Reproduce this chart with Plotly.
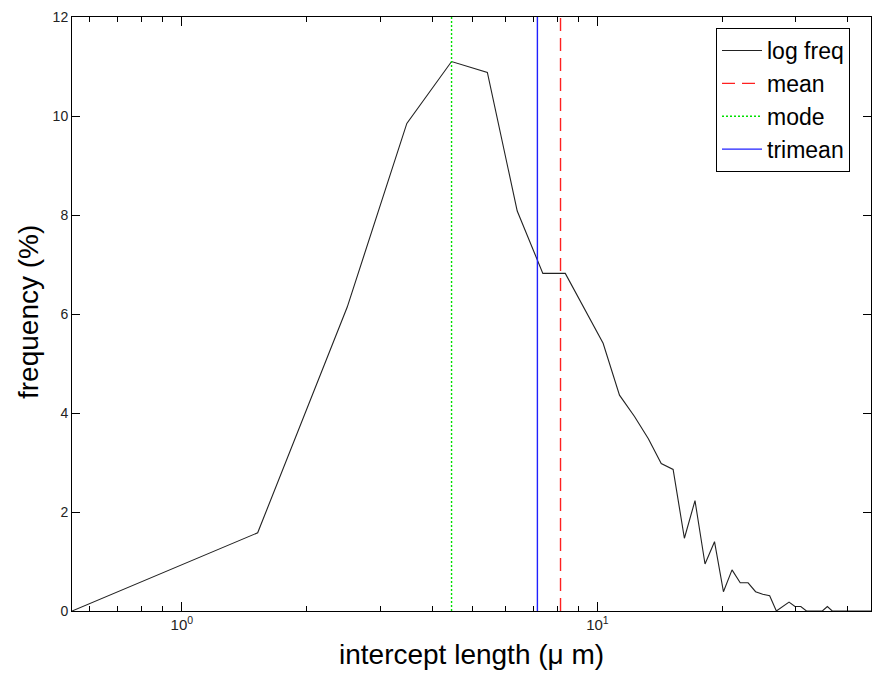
import math
import plotly.graph_objects as go

# intercept length bins (μm) and log-frequency (%)
lengths = [0.544, 1.522, 2.50, 3.478, 4.456, 5.434, 6.412, 7.39, 8.368, 9.346,
           10.32, 11.30, 12.28, 13.26, 14.24, 15.21, 16.19, 17.17, 18.15, 19.13,
           20.10, 21.08, 22.06, 23.04, 24.02, 24.99, 25.97, 26.95, 27.93, 28.91,
           29.88, 30.86, 31.84, 32.82, 33.80, 34.77, 35.75, 36.73, 37.71, 38.69,
           39.67, 40.64, 41.62, 42.60, 43.58, 44.56, 45.53]
freq = [0, 1.58, 6.14, 9.85, 11.10, 10.88, 8.08, 6.82, 6.82, 6.08,
        5.41, 4.36, 3.93, 3.48, 2.98, 2.86, 1.47, 2.23, 0.95, 1.40,
        0.39, 0.83, 0.57, 0.57, 0.39, 0.34, 0.31, 0, 0.09, 0.18,
        0.09, 0.09, 0, 0, 0, 0, 0.09, 0, 0, 0,
        0, 0, 0, 0, 0, 0, 0]

mean_val = 8.15
mode_val = 4.456
trimean_val = 7.17
y_span = [0, 12]

x_major = [1, 10]
x_major_text = ["10<sup>0</sup>", "10<sup>1</sup>"]
x_minor = [0.6, 0.7, 0.8, 0.9, 2, 3, 4, 5, 6, 7, 8, 9, 20, 30, 40]
y_ticks = [0, 2, 4, 6, 8, 10, 12]

FONT = "Liberation Sans, Arial, Helvetica, sans-serif"

fig = go.Figure()
fig.add_trace(go.Scatter(x=lengths, y=freq, mode="lines", name="log freq",
                         line=dict(color="#222222", width=1.1), legendgroup="a"))
fig.add_trace(go.Scatter(x=[mean_val, mean_val], y=y_span, mode="lines", name="mean",
                         line=dict(color="#ff2020", width=1.4, dash="13px,7px"), legendgroup="b"))
fig.add_trace(go.Scatter(x=[mode_val, mode_val], y=y_span, mode="lines", name="mode",
                         line=dict(color="#00e000", width=1.4, dash="2px,2px"), legendgroup="c"))
fig.add_trace(go.Scatter(x=[trimean_val, trimean_val], y=y_span, mode="lines", name="trimean",
                         line=dict(color="#2020ff", width=1.4), legendgroup="d"))

fig.update_layout(
    width=872, height=677,
    margin=dict(l=72, r=1, t=17, b=66),
    paper_bgcolor="white", plot_bgcolor="white",
    font=dict(family=FONT, color="black"),
    showlegend=True,
    legend=dict(x=(716 - 72) / 799, y=(611 - 28) / 594, xanchor="left", yanchor="top",
                bordercolor="black", borderwidth=1, bgcolor="white",
                font=dict(size=23, family=FONT), tracegroupgap=0, itemwidth=40),
    xaxis=dict(type="log", range=[math.log10(lengths[0]), math.log10(lengths[-1])],
               tickmode="array", tickvals=x_major, ticktext=x_major_text,
               ticks="inside", ticklen=9, tickwidth=1, tickcolor="black",
               minor=dict(tickmode="array", tickvals=x_minor, ticks="inside",
                          ticklen=5, tickwidth=1, tickcolor="black", showgrid=False),
               showline=True, linecolor="black", linewidth=1, mirror="ticks",
               showgrid=False, zeroline=False,
               tickfont=dict(size=15, color="#222")),
    yaxis=dict(range=[0, 12], tickmode="array", tickvals=y_ticks,
               ticks="inside", ticklen=8, tickwidth=1, tickcolor="black",
               showline=True, linecolor="black", linewidth=1, mirror="ticks",
               showgrid=False, zeroline=False,
               tickfont=dict(size=14, color="#222")),
    annotations=[
        dict(text="intercept length (μ m)", xref="paper", yref="paper",
             x=0.5, y=(611 - 655) / 594, xanchor="center", yanchor="middle",
             showarrow=False, font=dict(size=28, family=FONT)),
        dict(text="frequency (%)", xref="paper", yref="paper",
             x=(28 - 72) / 799, y=(611 - 312) / 594, xanchor="center", yanchor="middle",
             textangle=-90, showarrow=False, font=dict(size=28, family=FONT)),
    ],
)

fig.write_html("out.html")
